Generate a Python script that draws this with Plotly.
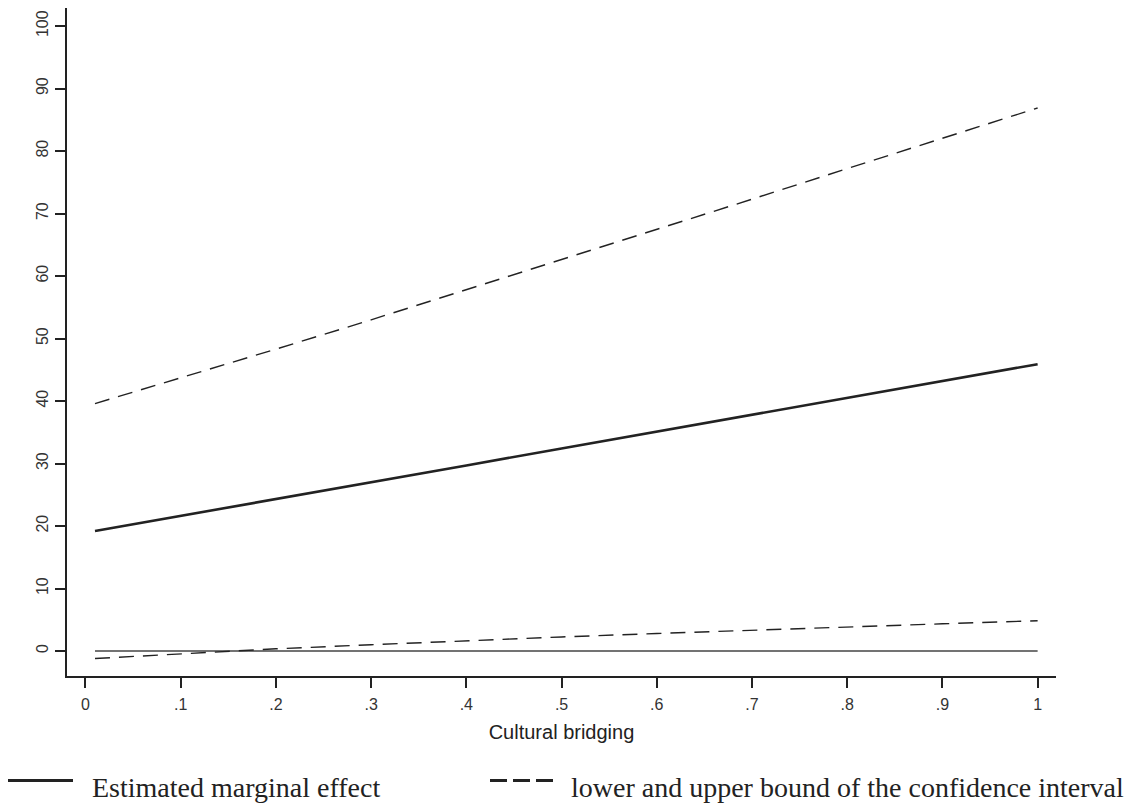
import plotly.graph_objects as go

# ---- data ----
cultural_bridging = [0.01, 0.1, 0.2, 0.3, 0.4, 0.5, 0.6, 0.7, 0.8, 0.9, 1.0]
marginal_effect = [19.2, 21.6, 24.3, 27.0, 29.7, 32.4, 35.1, 37.8, 40.5, 43.2, 45.9]
ci_lower = [-1.2, -0.45, 0.35, 1.0, 1.65, 2.25, 2.8, 3.35, 3.85, 4.35, 4.85]
ci_upper = [39.6, 43.7, 48.3, 53.0, 57.8, 62.6, 67.4, 72.3, 77.2, 82.0, 86.9]
zero_line = [0, 0, 0, 0, 0, 0, 0, 0, 0, 0, 0]

x_tickvals = [0, 0.1, 0.2, 0.3, 0.4, 0.5, 0.6, 0.7, 0.8, 0.9, 1.0]
x_ticktext = ["0", ".1", ".2", ".3", ".4", ".5", ".6", ".7", ".8", ".9", "1"]
y_tickvals = [0, 10, 20, 30, 40, 50, 60, 70, 80, 90, 100]

legend_solid = "Estimated marginal effect"
legend_dash = "lower and upper bound of the confidence interval"
x_title = "Cultural bridging"

INK = "#222222"
SANS = "Liberation Sans, Arial, sans-serif"
SERIF = "Liberation Serif, Times New Roman, serif"

fig = go.Figure()
fig.add_trace(go.Scatter(x=cultural_bridging, y=zero_line, mode="lines",
                         line=dict(color="#444444", width=1.6), name="zero",
                         hoverinfo="skip"))
fig.add_trace(go.Scatter(x=cultural_bridging, y=ci_upper, mode="lines",
                         line=dict(color=INK, width=1.4, dash="15px,9px"),
                         name="upper bound"))
fig.add_trace(go.Scatter(x=cultural_bridging, y=ci_lower, mode="lines",
                         line=dict(color=INK, width=1.4, dash="15px,9px"),
                         name="lower bound"))
fig.add_trace(go.Scatter(x=cultural_bridging, y=marginal_effect, mode="lines",
                         line=dict(color=INK, width=2.6), name=legend_solid))

W, H = 1137, 806
L, R, T, B = 67, 81, 8, 130
pw, ph = W - L - R, H - T - B


def px_x(p):
    return (p - L) / pw


def px_y(p):
    return (H - B - p) / ph


fig.update_layout(
    width=W, height=H,
    margin=dict(l=L, r=R, t=T, b=B, autoexpand=False),
    paper_bgcolor="white", plot_bgcolor="white",
    showlegend=False,
    xaxis=dict(range=[-0.0194, 1.0193], tickvals=x_tickvals, ticktext=x_ticktext,
               showgrid=False, zeroline=False, showline=True, linecolor=INK,
               linewidth=2, ticks="outside", ticklen=10, tickwidth=2,
               tickcolor=INK, ticklabelstandoff=3,
               tickfont=dict(family=SANS, size=16, color="#333333"),
               title=dict(text=x_title, standoff=13,
                          font=dict(family=SANS, size=20, color="#222222"))),
    yaxis=dict(range=[-4.0, 102.9], tickvals=y_tickvals,
               showgrid=False, zeroline=False, showline=True, linecolor=INK,
               linewidth=2, ticks="outside", ticklen=10, tickwidth=2,
               tickcolor=INK, tickangle=-90, ticklabelstandoff=1,
               tickfont=dict(family=SANS, size=16, color="#333333")),
)

# manual legend below the plot
leg_y = px_y(780.5)
fig.add_shape(type="line", xref="paper", yref="paper",
              x0=px_x(8), x1=px_x(73), y0=leg_y, y1=leg_y,
              line=dict(color=INK, width=3))
fig.add_shape(type="line", xref="paper", yref="paper",
              x0=px_x(490), x1=px_x(553), y0=leg_y, y1=leg_y,
              line=dict(color=INK, width=3, dash="17px,6px"))
fig.add_annotation(xref="paper", yref="paper", x=px_x(90), y=px_y(787),
                   text=legend_solid, showarrow=False, xanchor="left",
                   yanchor="middle",
                   font=dict(family=SERIF, size=28, color="#222222"))
fig.add_annotation(xref="paper", yref="paper", x=px_x(569), y=px_y(787),
                   text=legend_dash, showarrow=False, xanchor="left",
                   yanchor="middle",
                   font=dict(family=SERIF, size=28, color="#222222"))

fig.write_html("out.html", config={"displayModeBar": False},
               post_script="document.body.style.margin='0';")
